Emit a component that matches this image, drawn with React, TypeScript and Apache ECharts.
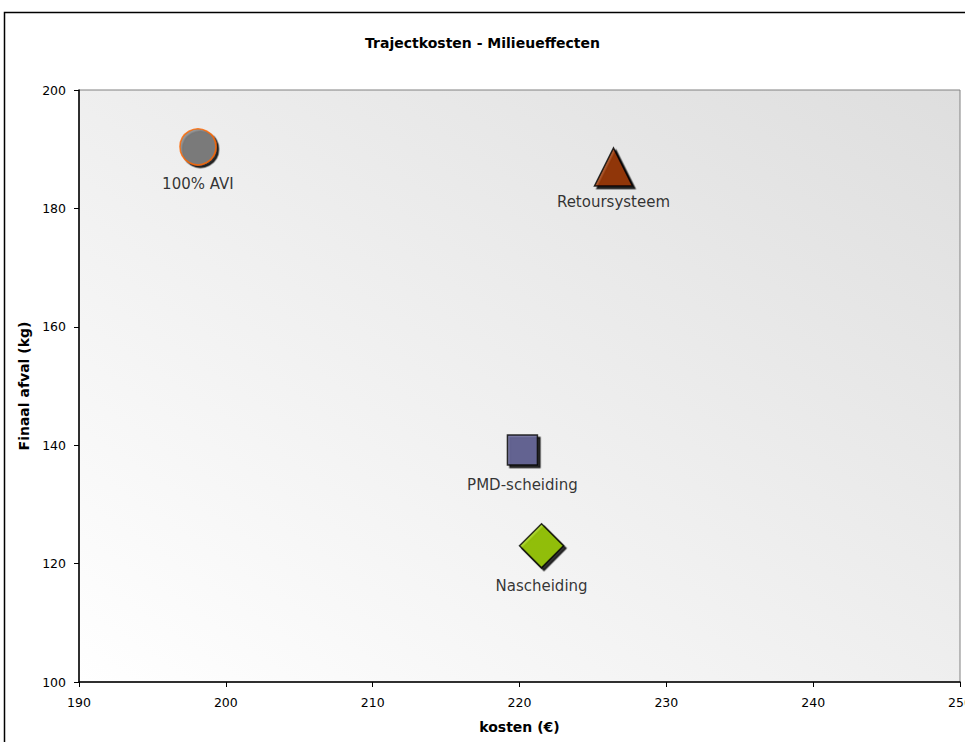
import React, { useEffect, useRef } from "react";
import * as echarts from "echarts";

const scenarios = ["100% AVI", "Retoursysteem", "PMD-scheiding", "Nascheiding"];
const costs = [198.1, 226.4, 220.2, 221.5];
const finalWaste = [190.4, 187.0, 139.2, 123.0];

const symbols = ["circle", "triangle", "rect", "diamond"];
const symbolSizes = [36, 38, 30, 44];
const fills = ["#808080", "#993300", "#666699", "#99cc00"];
const borders = ["#ff6600", "#000000", "#000000", "#000000"];
const labelGaps = [11, 8, 12, 10];

const xTicks = { min: 190, max: 250, interval: 10 };
const yTicks = { min: 100, max: 200, interval: 20 };

const FONT = "DejaVu Sans, Verdana, sans-serif";

export default function App() {
  const ref = useRef<HTMLDivElement>(null);

  useEffect(() => {
    if (!ref.current) return;
    const chart = echarts.init(ref.current, undefined, { renderer: "svg" });

    const data = scenarios.map((name, i) => ({
      name,
      value: [costs[i], finalWaste[i]],
      symbol: symbols[i],
      symbolSize: symbolSizes[i],
      itemStyle: {
        color: fills[i],
        borderColor: borders[i],
        borderWidth: 1.5,
        shadowColor: "#000000",
        shadowBlur: 0,
        shadowOffsetX: 2.5,
        shadowOffsetY: 2.5,
      },
      label: { distance: labelGaps[i] },
    }));

    chart.setOption({
      animation: false,
      title: {
        text: "Trajectkosten - Milieueffecten",
        left: "center",
        top: 31,
        textStyle: { fontFamily: FONT, fontSize: 14, fontWeight: "bold", color: "#000" },
      },
      graphic: [
        {
          type: "rect",
          shape: { x: 4.5, y: 12.5, width: 1100, height: 900 },
          style: { fill: "none", stroke: "#000", lineWidth: 1.5 },
          silent: true,
        },
      ],
      grid: {
        left: 79,
        right: 5,
        top: 90,
        bottom: 60,
        outerBoundsMode: "none",
        containLabel: false,
        show: true,
        borderColor: "#808080",
        borderWidth: 1,
        backgroundColor: new echarts.graphic.LinearGradient(1, 0, 0, 1, [
          { offset: 0, color: "#dedede" },
          { offset: 1, color: "#ffffff" },
        ]),
      },
      xAxis: {
        type: "value",
        min: xTicks.min,
        max: xTicks.max,
        interval: xTicks.interval,
        name: "kosten (€)",
        nameLocation: "middle",
        nameGap: 38,
        nameTextStyle: { fontFamily: FONT, fontSize: 14, fontWeight: "bold", color: "#000" },
        axisLine: { show: true, lineStyle: { color: "#000", width: 1.5 } },
        axisTick: { show: true, length: 5, lineStyle: { color: "#000" } },
        axisLabel: { fontFamily: FONT, fontSize: 12.5, color: "#000", margin: 14 },
        splitLine: { show: false },
      },
      yAxis: {
        type: "value",
        min: yTicks.min,
        max: yTicks.max,
        interval: yTicks.interval,
        name: "Finaal afval (kg)",
        nameLocation: "middle",
        nameGap: 42,
        nameTextStyle: { fontFamily: FONT, fontSize: 14, fontWeight: "bold", color: "#000" },
        axisLine: { show: true, lineStyle: { color: "#000", width: 1.5 } },
        axisTick: { show: true, length: 5, lineStyle: { color: "#000" } },
        axisLabel: { fontFamily: FONT, fontSize: 12.5, color: "#000", margin: 13 },
        splitLine: { show: false },
      },
      series: [
        {
          type: "scatter",
          data,
          label: {
            show: true,
            position: "bottom",
            formatter: "{b}",
            fontFamily: FONT,
            fontSize: 15,
            color: "#000",
          },
        },
      ],
    });

    return () => chart.dispose();
  }, []);

  return (
    <div
      ref={ref}
      style={{ position: "fixed", left: 0, top: 0, width: 965, height: 742, background: "#fff" }}
    />
  );
}
